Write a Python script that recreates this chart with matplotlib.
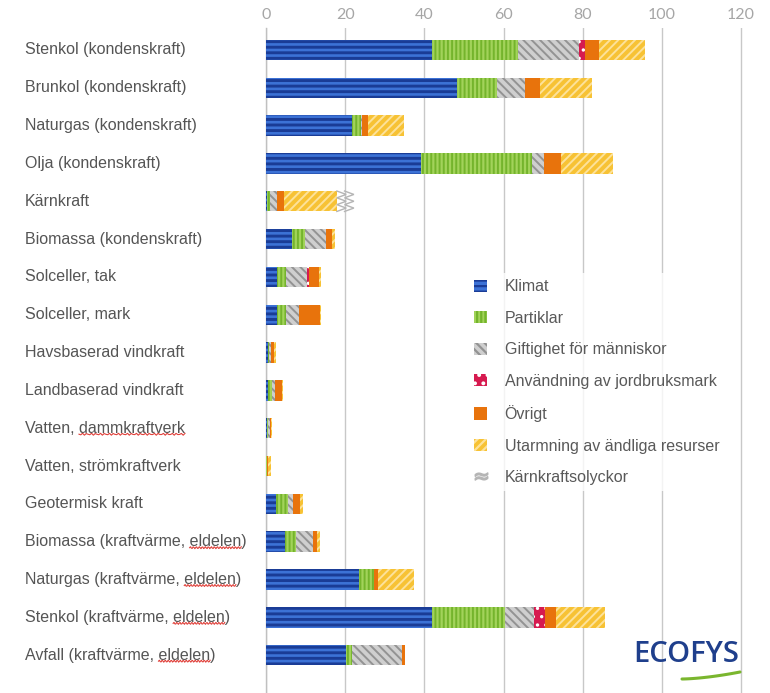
import matplotlib
matplotlib.use("Agg")
import matplotlib.pyplot as plt
import matplotlib.transforms as mtransforms
from matplotlib.patches import Patch
from matplotlib.lines import Line2D
import numpy as np

plt.rcParams['font.family'] = ['Liberation Sans', 'DejaVu Sans']
plt.rcParams['hatch.linewidth'] = 1.6

categories = [
    "Stenkol (kondenskraft)", "Brunkol (kondenskraft)", "Naturgas (kondenskraft)",
    "Olja (kondenskraft)", "Kärnkraft", "Biomassa (kondenskraft)", "Solceller, tak",
    "Solceller, mark", "Havsbaserad vindkraft", "Landbaserad vindkraft",
    "Vatten, dammkraftverk", "Vatten, strömkraftverk", "Geotermisk kraft",
    "Biomassa (kraftvärme, eldelen)", "Naturgas (kraftvärme, eldelen)",
    "Stenkol (kraftvärme, eldelen)", "Avfall (kraftvärme, eldelen)",
]

klimat      = [42.0, 48.3, 21.8, 39.1, 0.3, 6.5, 2.9, 2.9, 0.4, 0.6, 0.3, 0.1, 2.4, 4.9, 23.6, 42.0, 20.1]
partiklar   = [21.7, 10.0, 2.2, 28.0, 0.6, 3.4, 2.2, 2.2, 0.3, 0.8, 0.2, 0.1, 3.1, 2.7, 3.8, 18.3, 1.7]
giftighet   = [15.4, 7.1, 0.2, 3.1, 1.8, 5.3, 5.3, 3.2, 0.6, 0.9, 0.4, 0.1, 1.2, 4.2, 0.0, 7.4, 12.6]
jordbruk    = [1.6, 0.0, 0.0, 0.0, 0.0, 0.0, 0.4, 0.0, 0.0, 0.0, 0.0, 0.0, 0.0, 0.0, 0.0, 2.8, 0.0]
ovrigt      = [3.3, 3.8, 1.5, 4.2, 1.9, 1.5, 2.5, 5.4, 0.7, 1.7, 0.3, 0.1, 1.9, 1.0, 0.9, 2.7, 0.8]
utarmning   = [11.8, 13.1, 9.1, 13.3, 13.3, 0.8, 0.7, 0.2, 0.4, 0.2, 0.2, 0.8, 0.8, 0.9, 9.2, 12.5, 0.0]
olyckor     = [0, 0, 0, 0, 4.3, 0, 0, 0, 0, 0, 0, 0, 0, 0, 0, 0, 0]

xticks = [0, 20, 40, 60, 80, 100, 120]

series = [
    ("Klimat", klimat, dict(facecolor="#3c72d6", edgecolor="#1a3c96", hatch="---"), 2.1),
    ("Partiklar", partiklar, dict(facecolor="#a2d35a", edgecolor="#74b42c", hatch="||||"), 1.4),
    ("Giftighet för människor", giftighet, dict(facecolor="#cfcfcf", edgecolor="#939393", hatch="\\\\\\\\"), 1.4),
    ("Användning av jordbruksmark", jordbruk, dict(facecolor="#d61a4f", edgecolor="#ffffff", hatch=".."), 1.2),
    ("Övrigt", ovrigt, dict(facecolor="#e8730c", edgecolor="#e8730c", hatch=None), 1.0),
    ("Utarmning av ändliga resurser", utarmning, dict(facecolor="#f7c234", edgecolor="#fde29a", hatch="////"), 1.4),
]

W, H = 770, 693
fig = plt.figure(figsize=(W / 100, H / 100), dpi=100)
ax_left, ax_top = 266, 28
xmax = 120.6
ax_w = 475 * xmax / 120
ax = fig.add_axes([ax_left / W, 0, ax_w / W, (H - ax_top) / H])

y = np.arange(len(categories))
left = np.zeros(len(categories))
bh = 0.54
handles = []
for name, vals, st, hlw in series:
    vals = np.array(vals)
    with plt.rc_context({'hatch.linewidth': hlw}):
        ax.barh(y, vals, height=bh, left=left, linewidth=0, zorder=3, **st)
        handles.append(Patch(label=name, linewidth=0, **st))
    left = left + vals

# Kärnkraftsolyckor zigzag segments
olyckor = np.array(olyckor, dtype=float)
for i, w in enumerate(olyckor):
    if w <= 0:
        continue
    x0 = left[i]
    n = 3
    ys = np.linspace(i - bh / 2, i + bh / 2, 2 * n + 1)
    for off in (0.0, 0.45):
        xs = [x0 + off * w + (w * 0.55 if k % 2 else 0) for k in range(2 * n + 1)]
        ax.plot(xs, ys, color="#b5b5b5", lw=1.0, zorder=4, solid_joinstyle="miter")

ax.set_xlim(0, xmax)
ax.set_ylim(len(categories) - 1 + 1.0, -0.58)
ax.xaxis.tick_top()
ax.set_xticks(xticks)
ax.set_xticklabels([str(t) for t in xticks], color="#a6a6a6", fontsize=11.5, family=["Lato", "DejaVu Sans"])
ax.tick_params(axis="x", length=0, pad=4)
ax.set_yticks([])
ax.grid(axis="x", color="#c8c8c8", lw=1.0, zorder=0)
for s in ("top", "right", "bottom"):
    ax.spines[s].set_visible(False)
ax.spines["left"].set_color("#c0c0c0")
ax.spines["left"].set_linewidth(1.0)

trans = mtransforms.blended_transform_factory(fig.transFigure, ax.transData)
label_texts = []
for i, c in enumerate(categories):
    t = fig.text(25 / W, i, c, transform=trans, ha="left", va="center", fontsize=11.5, color="#555555")
    label_texts.append(t)

handles.append(Line2D([], [], color="#b5b5b5", marker="$\\approx$", linestyle="none", markersize=9,
                      label="Kärnkraftsolyckor"))
leg = ax.legend(handles=handles, loc="upper left", bbox_to_anchor=(460 / W, 1 - 265 / H),
                bbox_transform=fig.transFigure, frameon=True, fontsize=11.5, labelcolor="#595959",
                handlelength=0.8, handleheight=0.8, handletextpad=1.1, labelspacing=1.03,
                borderpad=0.4)
leg.get_frame().set_facecolor("white")
leg.get_frame().set_edgecolor("none")
leg.set_zorder(5)

# spell-check squiggles (as in the screenshot)
fig.canvas.draw()
renderer = fig.canvas.get_renderer()
for t in label_texts:
    s = t.get_text()
    for word in ("eldelen", "dammkraftverk"):
        k = s.find(word)
        if k < 0:
            continue
        bb = t.get_window_extent(renderer)
        tmp = fig.text(0, 0, s[:k], fontsize=11.5)
        w0 = tmp.get_window_extent(renderer).width if k > 0 else 0
        tmp.set_text(s[:k + len(word)])
        w1 = tmp.get_window_extent(renderer).width
        tmp.remove()
        xs = np.linspace(bb.x0 + w0, bb.x0 + w1, 60)
        ys = bb.y0 + 1.5 + 1.0 * np.sin((xs - xs[0]) * 2 * np.pi / 3.0)
        fig.add_artist(Line2D(xs / W, ys / H, color="#e0403a", lw=0.8, transform=fig.transFigure))

# ECOFYS logo
fig.text(686 / W, 1 - 655 / H, "ECOFYS", ha="center", va="center", fontsize=21, weight="semibold",
         color="#1f3f8c", family=["Open Sans", "DejaVu Sans"])
tt = np.linspace(0, 1, 50)
lx = 682 + 58 * tt
ly = 679 - 7 * tt ** 1.6
fig.add_artist(Line2D(lx / W, 1 - ly / H, color="#7ab62e", lw=2.2, transform=fig.transFigure,
                      solid_capstyle="round"))

fig.savefig("out.png", dpi=100, facecolor="white")
